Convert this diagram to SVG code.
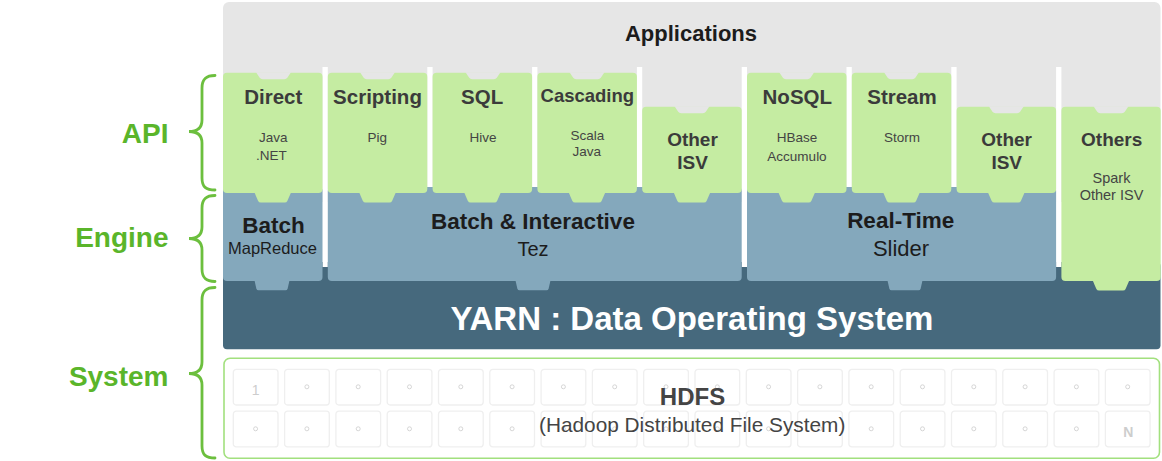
<svg xmlns="http://www.w3.org/2000/svg" width="1162" height="461" viewBox="0 0 1162 461">
<style>
  text { font-family: "Liberation Sans", Arial, Helvetica, sans-serif; }
  .grey { fill: #e6e6e6; }
  .green { fill: #c5eca2; }
  .blue { fill: #84a8bc; }
  .dark { fill: #46697d; }
  .gap { fill: #ffffff; }
  .t1 { font-size: 20.5px; font-weight: bold; fill: #3b3b3b; text-anchor: middle; }
  .t1s { font-size: 19px; font-weight: bold; fill: #3b3b3b; text-anchor: middle; }
  .sub { font-size: 13.5px; fill: #444444; text-anchor: middle; }
  .sub2 { font-size: 14.5px; fill: #444444; text-anchor: middle; }
  .eng { font-size: 22.5px; font-weight: bold; fill: #1c1c1c; text-anchor: middle; }
  .engs { font-size: 20px; fill: #1c1c1c; text-anchor: middle; }
  .lbl { font-size: 28px; font-weight: bold; fill: #5ab52a; text-anchor: end; }
  .brace { fill: none; stroke: #6cbf3e; stroke-width: 2.8; stroke-linecap: round; }
  .cell { fill: #ffffff; stroke: #efefef; stroke-width: 1.3; }
  .dot { fill: none; stroke: #cccccc; stroke-width: 0.8; }
  .num { font-size: 14px; fill: #cdcdcd; text-anchor: middle; }
</style>
<defs>
  <path id="gtab" d="M-17.5,0 L-13.8,5.6 Q-12.8,7 -10.8,7 L10.8,7 Q12.8,7 13.8,5.6 L17.5,0 Z"/>
  <path id="ltab" d="M-18.3,0 L-14.6,8.4 Q-13.8,10 -12,10 L12,10 Q13.8,10 14.6,8.4 L18.3,0 Z"/>
  <path id="btab" d="M-17.5,0 L-15.6,8.2 Q-15.2,9.8 -13.5,9.8 L13.5,9.8 Q15.2,9.8 15.6,8.2 L17.5,0 Z"/>
  <rect id="cl" width="44.7" height="35.7" rx="3"/>
</defs>

<!-- Applications background layer -->
<g id="applications">
  <rect class="grey" x="223" y="2" width="937.5" height="200" rx="6"/>
  <text x="691" y="41" style="font-size:22px;font-weight:bold;fill:#1c1c1c;text-anchor:middle">Applications</text>
</g>

<!-- YARN -->
<g id="yarn">
  <rect class="dark" x="223" y="262" width="937.5" height="87.3" rx="4"/>
  <text x="692" y="330" style="font-size:33px;font-weight:bold;fill:#ffffff;text-anchor:middle">YARN : Data Operating System</text>
</g>

<!-- separators -->
<g id="separators" class="gap">
  <rect x="322.5" y="67" width="5.3" height="200"/>
  <rect x="427.3" y="67" width="5.3" height="120"/>
  <rect x="532.1" y="67" width="5.3" height="120"/>
  <rect x="636.9" y="67" width="5.3" height="120"/>
  <rect x="741.7" y="67" width="5.3" height="200"/>
  <rect x="846.5" y="67" width="5.3" height="120"/>
  <rect x="951.3" y="67" width="5.3" height="120"/>
  <rect x="1056.1" y="67" width="5.3" height="200"/>
</g>

<!-- Engines -->
<g id="engine-batch">
  <rect class="blue" x="223" y="187" width="99.5" height="94" rx="4"/>
  <use href="#btab" class="blue" x="272" y="280.5"/>
</g>
<g id="engine-tez">
  <rect class="blue" x="327.8" y="187" width="413.9" height="94" rx="4"/>
  <use href="#btab" class="blue" x="533" y="280.5"/>
</g>
<g id="engine-slider">
  <rect class="blue" x="747" y="187" width="309.1" height="94" rx="4"/>
  <use href="#btab" class="blue" x="905" y="280.5"/>
</g>

<!-- API boxes -->
<g id="api-direct">
  <rect class="green" x="223" y="72.7" width="99.5" height="120.3" rx="4"/>
  <use href="#ltab" class="green" x="272.75" y="192.5"/>
  <use href="#gtab" class="grey" x="273.5" y="72.2"/>
  <text class="t1" x="273.3" y="104">Direct</text>
  <text class="sub" x="273.3" y="141.7">Java</text>
  <text class="sub" x="271.5" y="160">.NET</text>
</g>
<g id="api-scripting">
  <rect class="green" x="327.8" y="72.7" width="99.5" height="120.3" rx="4"/>
  <use href="#ltab" class="green" x="377.5" y="192.5"/>
  <use href="#gtab" class="grey" x="377.5" y="72.2"/>
  <text class="t1" x="377.5" y="104">Scripting</text>
  <text class="sub" x="377.3" y="141.7">Pig</text>
</g>
<g id="api-sql">
  <rect class="green" x="432.6" y="72.7" width="99.5" height="120.3" rx="4"/>
  <use href="#ltab" class="green" x="482.5" y="192.5"/>
  <use href="#gtab" class="grey" x="483" y="72.2"/>
  <text class="t1" x="482.2" y="104">SQL</text>
  <text class="sub" x="483" y="141.7">Hive</text>
</g>
<g id="api-cascading">
  <rect class="green" x="537.4" y="72.7" width="99.5" height="120.3" rx="4"/>
  <use href="#ltab" class="green" x="587" y="192.5"/>
  <use href="#gtab" class="grey" x="587" y="72.2"/>
  <text x="587.3" y="102" style="font-size:18.5px;font-weight:bold;fill:#3b3b3b;text-anchor:middle">Cascading</text>
  <text class="sub" x="587.3" y="139.7">Scala</text>
  <text class="sub" x="586.7" y="156">Java</text>
</g>
<g id="api-other-isv-1">
  <rect class="green" x="642.2" y="106.7" width="99.5" height="86.3" rx="4"/>
  <use href="#ltab" class="green" x="692" y="192.5"/>
  <use href="#gtab" class="grey" x="692" y="106.2"/>
  <text class="t1s" x="692.5" y="146">Other</text>
  <text class="t1s" x="692.5" y="169">ISV</text>
</g>
<g id="api-nosql">
  <rect class="green" x="747" y="72.7" width="99.5" height="120.3" rx="4"/>
  <use href="#ltab" class="green" x="796.7" y="192.5"/>
  <use href="#gtab" class="grey" x="796.7" y="72.2"/>
  <text class="t1" x="797.3" y="104">NoSQL</text>
  <text class="sub" x="797" y="141.7">HBase</text>
  <text class="sub" x="797" y="160.5">Accumulo</text>
</g>
<g id="api-stream">
  <rect class="green" x="851.8" y="72.7" width="99.5" height="120.3" rx="4"/>
  <use href="#ltab" class="green" x="901.5" y="192.5"/>
  <use href="#gtab" class="grey" x="901.5" y="72.2"/>
  <text class="t1" x="902" y="104">Stream</text>
  <text class="sub" x="902" y="141.7">Storm</text>
</g>
<g id="api-other-isv-2">
  <rect class="green" x="956.6" y="106.7" width="99.5" height="86.3" rx="4"/>
  <use href="#ltab" class="green" x="1006.3" y="192.5"/>
  <use href="#gtab" class="grey" x="1006.3" y="106.2"/>
  <text class="t1s" x="1006.7" y="146">Other</text>
  <text class="t1s" x="1006.7" y="169">ISV</text>
</g>
<g id="api-others">
  <rect class="green" x="1061.4" y="106.7" width="99.3" height="174.3" rx="4"/>
  <use href="#ltab" class="green" x="1111" y="280.5"/>
  <use href="#gtab" class="grey" x="1111" y="106.2"/>
  <text class="t1s" x="1111.7" y="146">Others</text>
  <text class="sub2" x="1111.5" y="183">Spark</text>
  <text class="sub2" x="1111.5" y="200">Other ISV</text>
</g>

<!-- Engine labels -->
<g id="engine-labels">
  <text class="eng" x="273.5" y="233.3">Batch</text>
  <text x="272.5" y="254" style="font-size:16.5px;fill:#1c1c1c;text-anchor:middle">MapReduce</text>
  <text class="eng" x="533" y="229.3">Batch &amp; Interactive</text>
  <text class="engs" x="533" y="256">Tez</text>
  <text class="eng" x="900.7" y="228.3">Real-Time</text>
  <text x="901" y="255.5" style="font-size:22px;fill:#1c1c1c;text-anchor:middle">Slider</text>
</g>

<!-- HDFS -->
<g id="hdfs">
  <rect x="224" y="358.3" width="935.5" height="100" rx="6" fill="#ffffff" stroke="#a2e07e" stroke-width="1.6"/>
  <g class="cell">
    <use href="#cl" x="233.3" y="369.3"/><use href="#cl" x="284.6" y="369.3"/><use href="#cl" x="335.9" y="369.3"/><use href="#cl" x="387.2" y="369.3"/><use href="#cl" x="438.5" y="369.3"/><use href="#cl" x="489.8" y="369.3"/><use href="#cl" x="541.1" y="369.3"/><use href="#cl" x="592.4" y="369.3"/><use href="#cl" x="643.7" y="369.3"/><use href="#cl" x="695" y="369.3"/><use href="#cl" x="746.3" y="369.3"/><use href="#cl" x="797.6" y="369.3"/><use href="#cl" x="848.9" y="369.3"/><use href="#cl" x="900.2" y="369.3"/><use href="#cl" x="951.5" y="369.3"/><use href="#cl" x="1002.8" y="369.3"/><use href="#cl" x="1054.1" y="369.3"/><use href="#cl" x="1105.4" y="369.3"/>
    <use href="#cl" x="233.3" y="411.2"/><use href="#cl" x="284.6" y="411.2"/><use href="#cl" x="335.9" y="411.2"/><use href="#cl" x="387.2" y="411.2"/><use href="#cl" x="438.5" y="411.2"/><use href="#cl" x="489.8" y="411.2"/><use href="#cl" x="541.1" y="411.2"/><use href="#cl" x="592.4" y="411.2"/><use href="#cl" x="643.7" y="411.2"/><use href="#cl" x="695" y="411.2"/><use href="#cl" x="746.3" y="411.2"/><use href="#cl" x="797.6" y="411.2"/><use href="#cl" x="848.9" y="411.2"/><use href="#cl" x="900.2" y="411.2"/><use href="#cl" x="951.5" y="411.2"/><use href="#cl" x="1002.8" y="411.2"/><use href="#cl" x="1054.1" y="411.2"/><use href="#cl" x="1105.4" y="411.2"/>
  </g>
  <g class="dot">
    <circle cx="306.9" cy="386.8" r="2"/><circle cx="358.2" cy="386.8" r="2"/><circle cx="409.5" cy="386.8" r="2"/><circle cx="460.8" cy="386.8" r="2"/><circle cx="512.1" cy="386.8" r="2"/><circle cx="563.4" cy="386.8" r="2"/><circle cx="614.7" cy="386.8" r="2"/><circle cx="666" cy="386.8" r="2"/><circle cx="717.3" cy="386.8" r="2"/><circle cx="768.6" cy="386.8" r="2"/><circle cx="819.9" cy="386.8" r="2"/><circle cx="871.2" cy="386.8" r="2"/><circle cx="922.5" cy="386.8" r="2"/><circle cx="973.8" cy="386.8" r="2"/><circle cx="1025.1" cy="386.8" r="2"/><circle cx="1076.4" cy="386.8" r="2"/><circle cx="1127.7" cy="386.8" r="2"/>
    <circle cx="255.6" cy="428.8" r="2"/><circle cx="306.9" cy="428.8" r="2"/><circle cx="358.2" cy="428.8" r="2"/><circle cx="409.5" cy="428.8" r="2"/><circle cx="460.8" cy="428.8" r="2"/><circle cx="512.1" cy="428.8" r="2"/><circle cx="563.4" cy="428.8" r="2"/><circle cx="614.7" cy="428.8" r="2"/><circle cx="666" cy="428.8" r="2"/><circle cx="717.3" cy="428.8" r="2"/><circle cx="768.6" cy="428.8" r="2"/><circle cx="819.9" cy="428.8" r="2"/><circle cx="871.2" cy="428.8" r="2"/><circle cx="922.5" cy="428.8" r="2"/><circle cx="973.8" cy="428.8" r="2"/><circle cx="1025.1" cy="428.8" r="2"/><circle cx="1076.4" cy="428.8" r="2"/>
  </g>
  <text class="num" x="255.6" y="395">1</text>
  <text class="num" x="1128.3" y="436.7" style="font-weight:bold">N</text>
  <text x="692.5" y="405" style="font-size:24px;font-weight:bold;fill:#444444;text-anchor:middle">HDFS</text>
  <text x="692.2" y="431.5" style="font-size:20.8px;fill:#444444;text-anchor:middle">(Hadoop Distributed File System)</text>
</g>

<!-- Layer labels and braces -->
<g id="layer-api">
  <path class="brace" d="M215,75.5 C206,75.5 202,79 202,88 L202,120 C202,127 198,131.5 189,131.5 C198,131.5 202,136 202,143 L202,178 C202,187 206,190 215,190"/>
  <text class="lbl" x="168.5" y="142.5">API</text>
</g>
<g id="layer-engine">
  <path class="brace" d="M215,195.5 C206,195.5 202,199 202,208 L202,227 C202,234 198,238.5 189,238.5 C198,238.5 202,243 202,250 L202,269 C202,278 206,281.5 215,281.5"/>
  <text class="lbl" x="168.5" y="246.5">Engine</text>
</g>
<g id="layer-system">
  <path class="brace" d="M215,287.5 C206,287.5 202,291 202,300 L202,362 C202,369 198,373.5 189,373.5 C198,373.5 202,378 202,385 L202,446 C202,455 206,458 215,458"/>
  <text class="lbl" x="168.5" y="386">System</text>
</g>
</svg>
